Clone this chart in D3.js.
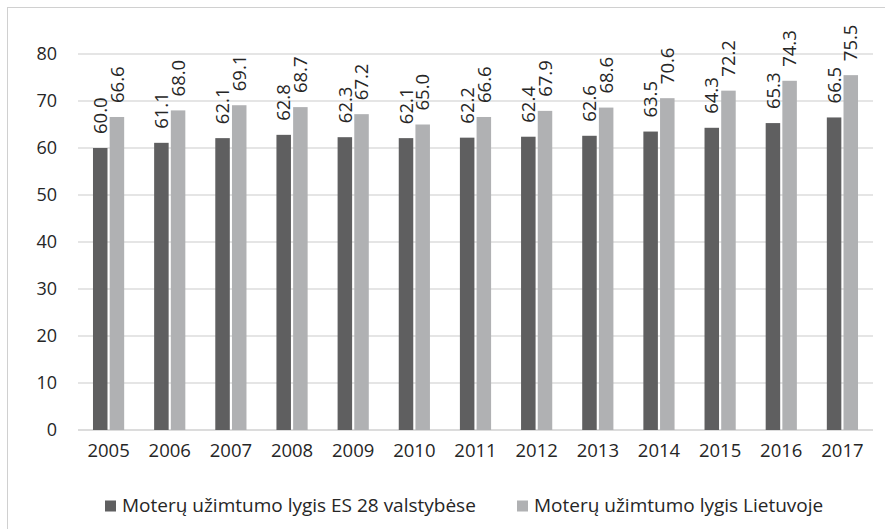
<!DOCTYPE html>
<html>
<head>
<meta charset="utf-8">
<script src="https://cdn.jsdelivr.net/npm/d3@7"></script>
<style>
  body { margin: 0; background: #fff; }
  text { font-family: "Open Sans", sans-serif; fill: #262626; }
</style>
</head>
<body>
<svg width="885" height="529"></svg>
<script>
// years on the x axis
const years = ["2005", "2006", "2007", "2008", "2009", "2010", "2011", "2012", "2013", "2014", "2015", "2016", "2017"]
// employment rate of women, EU 28
const esValues = [60.0, 61.1, 62.1, 62.8, 62.3, 62.1, 62.2, 62.4, 62.6, 63.5, 64.3, 65.3, 66.5]
// employment rate of women, Lithuania
const ltValues = [66.6, 68.0, 69.1, 68.7, 67.2, 65.0, 66.6, 67.9, 68.6, 70.6, 72.2, 74.3, 75.5]
const seriesNames = ["Moterų užimtumo lygis ES 28 valstybėse", "Moterų užimtumo lygis Lietuvoje"]
const yTicks = [0, 10, 20, 30, 40, 50, 60, 70, 80]

const colors = ["#5f5f60", "#b0b1b3"]

const svg = d3.select("svg")

// chart frame
svg.append("rect")
  .attr("x", 7.5).attr("y", 7.5)
  .attr("width", 890).attr("height", 540)
  .attr("fill", "none")
  .attr("stroke", "#d0d0d0")

const margin = { top: 54, left: 78, right: 12, bottom: 99 }
const width = 885 - margin.left - margin.right
const height = 529 - margin.top - margin.bottom

const g = svg.append("g")
  .attr("transform", `translate(${margin.left},${margin.top})`)

const x = d3.scaleBand()
  .domain(years)
  .range([0, width])
  .paddingInner(0.49)
  .paddingOuter(0.245)

const x1 = d3.scaleBand()
  .domain([0, 1])
  .range([0, x.bandwidth()])
  .paddingInner(0.13)

const y = d3.scaleLinear().domain([0, 80]).range([height, 0])

// gridlines
g.append("g")
  .selectAll("line")
  .data(yTicks)
  .join("line")
  .attr("x1", 0).attr("x2", width)
  .attr("y1", (d) => y(d)).attr("y2", (d) => y(d))
  .attr("stroke", (d) => (d === 0 ? "#d0d0d0" : "#dcdcdc"))
  .attr("stroke-width", 1.3)

// y axis
const yAxis = g.append("g")
  .call(d3.axisLeft(y).tickValues(yTicks).tickSize(0).tickPadding(21))
yAxis.select(".domain").remove()
yAxis.selectAll("text").style("font-size", "18px").attr("fill", "#262626")

// x axis
const xAxis = g.append("g")
  .attr("transform", `translate(0,${height})`)
  .call(d3.axisBottom(x).tickSize(0).tickPadding(14))
xAxis.select(".domain").remove()
xAxis.selectAll("text").style("font-size", "18.5px").attr("fill", "#262626")

const rows = years.map((yr, i) => ({ year: yr, vals: [esValues[i], ltValues[i]] }))

const groups = g.selectAll(".grp")
  .data(rows)
  .join("g")
  .attr("class", "grp")
  .attr("transform", (d) => `translate(${x(d.year)},0)`)

groups.selectAll("rect")
  .data((d) => d.vals.map((v, k) => ({ v, k })))
  .join("rect")
  .attr("x", (d) => x1(d.k))
  .attr("y", (d) => y(d.v))
  .attr("width", x1.bandwidth())
  .attr("height", (d) => height - y(d.v))
  .attr("fill", (d) => colors[d.k])

// rotated value labels
groups.selectAll("text")
  .data((d) => d.vals.map((v, k) => ({ v, k })))
  .join("text")
  .attr("transform", (d) => `translate(${x1(d.k) + x1.bandwidth() / 2},${y(d.v) - 14}) rotate(-90)`)
  .attr("dy", "0.36em")
  .style("font-size", "18.5px")
  .text((d) => d.v.toFixed(1))

// legend
const legendX = [105, 517]
const legend = svg.append("g")
seriesNames.forEach((name, k) => {
  legend.append("rect")
    .attr("x", legendX[k]).attr("y", 500.5)
    .attr("width", 11).attr("height", 11)
    .attr("fill", colors[k])
  legend.append("text")
    .attr("x", legendX[k] + 17).attr("y", 512)
    .style("font-size", "19px")
    .text(name)
})
</script>
</body>
</html>
